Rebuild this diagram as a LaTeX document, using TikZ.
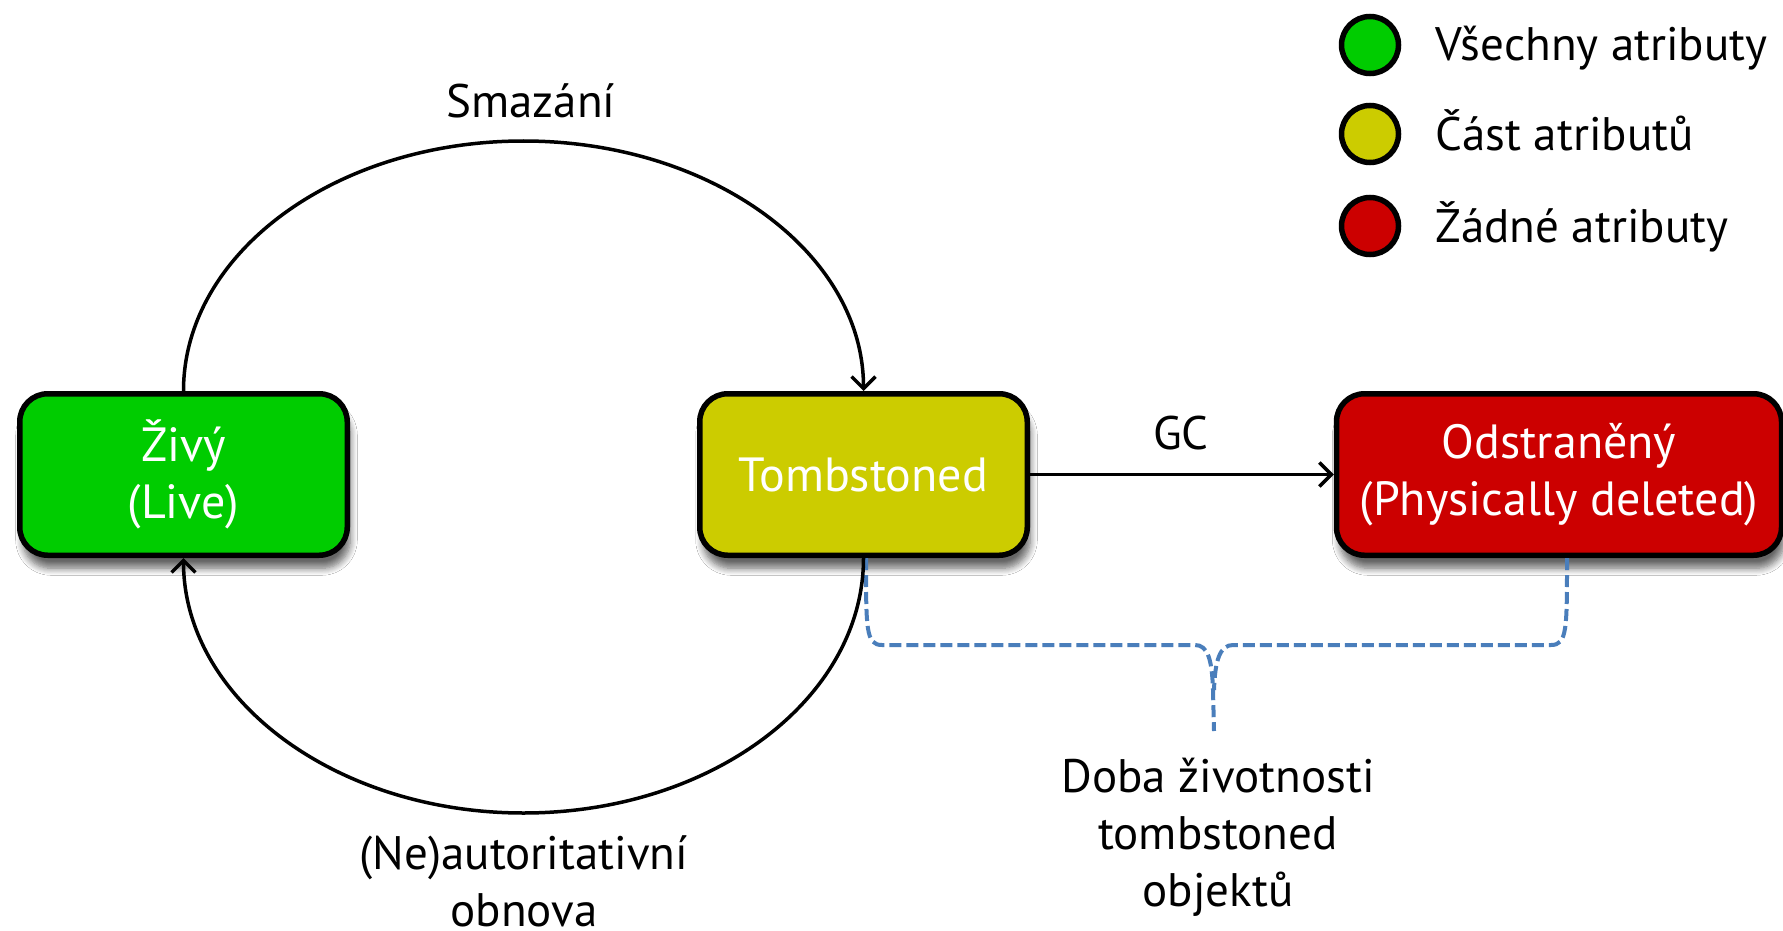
\documentclass[tikz,border=0pt]{standalone}
\usepackage{fontspec}
\setmainfont{PT Sans}
\usetikzlibrary{arrows.meta,shadows.blur}
\definecolor{cgreen}{HTML}{00CC00}
\definecolor{cyellow}{HTML}{CCCC00}
\definecolor{cred}{HTML}{CC0000}
\definecolor{cblue}{HTML}{4A7EBB}
\tikzset{
  statebox/.style={draw=black, line width=5.5pt, rounded corners=28pt, minimum height=161.5pt,
    text=white, align=center, font=\fontsize{48}{57}\selectfont,
    blur shadow={shadow xshift=3pt, shadow yshift=-13pt, shadow blur steps=8, shadow blur radius=7pt, shadow opacity=60}},
  arr/.style={line width=3.5pt, -{Straight Barb[length=12pt,width=24pt,line width=3.5pt]}},
  lbl/.style={font=\fontsize{47}{57}\selectfont, align=center, inner sep=1pt},
  legdot/.style={circle, draw=black, line width=5.5pt, minimum size=57pt, inner sep=0pt},
  legtxt/.style={font=\fontsize{47}{55}\selectfont, anchor=base west},
  bracepath/.style={draw=cblue, line width=4pt, dash pattern=on 12pt off 5pt}
}
\begin{document}
\begin{tikzpicture}[x=1pt,y=1pt]
\useasboundingbox[fill=white] (0,0) rectangle (1783,-931);
% state boxes
\node[statebox, fill=cgreen, minimum width=327.5pt] (live) at (183.5,-474.5) {Živý\\(Live)};
\node[statebox, fill=cyellow, minimum width=327.5pt] (tomb) at (863.5,-474.5) {Tombstoned};
\node[statebox, fill=cred, minimum width=445pt] (del) at (1559,-474.5) {Odstraněný\\(Physically deleted)};
% brace
\coordinate (bl) at (866,-558);
\coordinate (br) at (1567,-558);
\coordinate (tip) at (1214,-731);
\draw[bracepath] (bl) .. controls (866,-630) and (866,-645) .. (882,-645) -- (1195,-645)
  .. controls (1208,-645) and (1212,-660) .. (1213,-690) -- (tip);
\draw[bracepath] (br) .. controls (1567,-630) and (1567,-645) .. (1551,-645) -- (1233,-645)
  .. controls (1220,-645) and (1215,-660) .. (1214,-690);
% connectors
\draw[arr] (live.north) arc[start angle=180, end angle=0, x radius=340, y radius=250];
\draw[arr] (tomb.south) arc[start angle=0, end angle=-180, x radius=340, y radius=255];
\draw[arr] (tomb.east) -- (del.west);
% labels
\node[lbl] (lsmaz) at (531,-101) {Smazání};
\node[lbl] (lgc) at (1181,-433) {GC};
\node[lbl] (lobn) at (524,-881) {(Ne)autoritativní\\obnova};
\node[lbl] (ldoba) at (1218,-837) {Doba životnosti\\tombstoned\\objektů};
% legend
\node[legdot, fill=cgreen] (d1) at (1370,-45) {};
\node[legdot, fill=cyellow] (d2) at (1370,-134) {};
\node[legdot, fill=cred] (d3) at (1370,-226) {};
\node[legtxt] (t1) at (1432,-61) {Všechny atributy};
\node[legtxt] (t2) at (1432,-150) {Část atributů};
\node[legtxt] (t3) at (1432,-242) {Žádné atributy};
\end{tikzpicture}
\end{document}
